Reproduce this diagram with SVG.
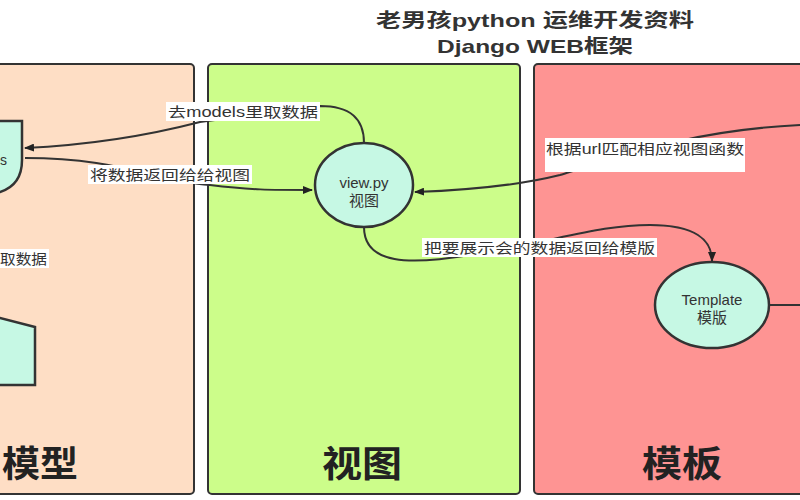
<svg xmlns="http://www.w3.org/2000/svg" width="800" height="500" viewBox="0 0 800 500">
<defs>
<style>
.panel{stroke:#333;stroke-width:2}
.node{fill:#c6f8e4;stroke:#333;stroke-width:2.5}
.t{font-family:"Liberation Sans","Noto Sans CJK SC",sans-serif;fill:#333}
.lbl{font-size:14px}
.big{font-size:36px;font-weight:bold;fill:#222}
.c{fill:none;stroke:#333;stroke-width:2}
</style>
<marker id="ah" markerWidth="10" markerHeight="8" refX="9" refY="4" orient="auto" markerUnits="userSpaceOnUse"><path d="M0,0 L10,4 L0,8 Z" fill="#222"/></marker>
</defs>
<rect width="800" height="500" fill="#fff"/>
<text class="t" x="376" y="27" textLength="318" lengthAdjust="spacingAndGlyphs" font-size="19" font-weight="bold" fill="#222">老男孩python 运维开发资料</text>
<text class="t" x="437" y="53" textLength="196" lengthAdjust="spacingAndGlyphs" font-size="19" font-weight="bold" fill="#222">Django WEB框架</text>
<g id="panel-model"><rect class="panel" x="-10" y="64" width="204" height="430" rx="4" fill="#fedec5"/><text class="t big" x="40" y="477" text-anchor="middle" textLength="76" lengthAdjust="spacingAndGlyphs">模型</text></g>
<g id="panel-view"><rect class="panel" x="208" y="64" width="312" height="430" rx="4" fill="#ccfd8a"/><text class="t big" x="362" y="477" text-anchor="middle" textLength="80" lengthAdjust="spacingAndGlyphs">视图</text></g>
<g id="panel-template"><rect class="panel" x="534" y="64" width="280" height="430" rx="4" fill="#fe9493"/><text class="t big" x="682" y="477" text-anchor="middle" textLength="80" lengthAdjust="spacingAndGlyphs">模板</text></g>
<g id="models"><path class="node" d="M-10,121 L22,121 L22,160 Q22,185 0,192 L-10,192 Z"/><text class="t lbl" x="0" y="165">s</text></g>
<g id="db"><path class="node" d="M-10,318 L0,318 L35,327 L35,385 L-10,385 Z"/></g>
<g id="view"><ellipse class="node" cx="364" cy="185" rx="49" ry="42"/><text class="t" x="364" y="188" text-anchor="middle" font-size="15">view.py</text><text class="t" x="364" y="206" text-anchor="middle" font-size="15">视图</text></g>
<g id="template"><ellipse class="node" cx="712" cy="305" rx="57" ry="43"/><text class="t" x="712" y="305" text-anchor="middle" font-size="15">Template</text><text class="t" x="712" y="323" text-anchor="middle" font-size="15">模版</text></g>
<g id="connectors">
<path class="c" marker-end="url(#ah)" d="M364,143 C364,118 350,106 320,106 L200,122 C150,135 90,145 25,148"/>
<path class="c" marker-end="url(#ah)" d="M25,158 C120,158 150,180 210,185 C250,190 270,190 312,190"/>
<path class="c" marker-end="url(#ah)" d="M800,125 C700,130 640,150 560,175 C520,185 470,190 415,192"/>
<path class="c" marker-end="url(#ah)" d="M364,227 C364,265 410,265 470,255 C560,240 600,225 650,225 C695,225 712,240 712,261"/>
<path class="c" d="M769,305 L800,305"/>
<rect x="166" y="102" width="154" height="19" fill="#fff"/>
<text class="t lbl" x="168" y="117" textLength="150" lengthAdjust="spacingAndGlyphs">去models里取数据</text>
<rect x="88" y="165" width="164" height="19" fill="#fff"/>
<text class="t lbl" x="90" y="180" textLength="160" lengthAdjust="spacingAndGlyphs">将数据返回给给视图</text>
<rect x="545" y="138" width="200" height="34" fill="#fff"/>
<text class="t lbl" x="546" y="154" textLength="198" lengthAdjust="spacingAndGlyphs">根据url匹配相应视图函数</text>
<rect x="422" y="238" width="235" height="19" fill="#fff"/>
<text class="t lbl" x="424" y="253" textLength="231" lengthAdjust="spacingAndGlyphs">把要展示会的数据返回给模版</text>
<rect x="0" y="249" width="49" height="19" fill="#fff"/>
<text class="t lbl" x="0" y="264" textLength="47" lengthAdjust="spacingAndGlyphs">取数据</text>
</g>
</svg>
